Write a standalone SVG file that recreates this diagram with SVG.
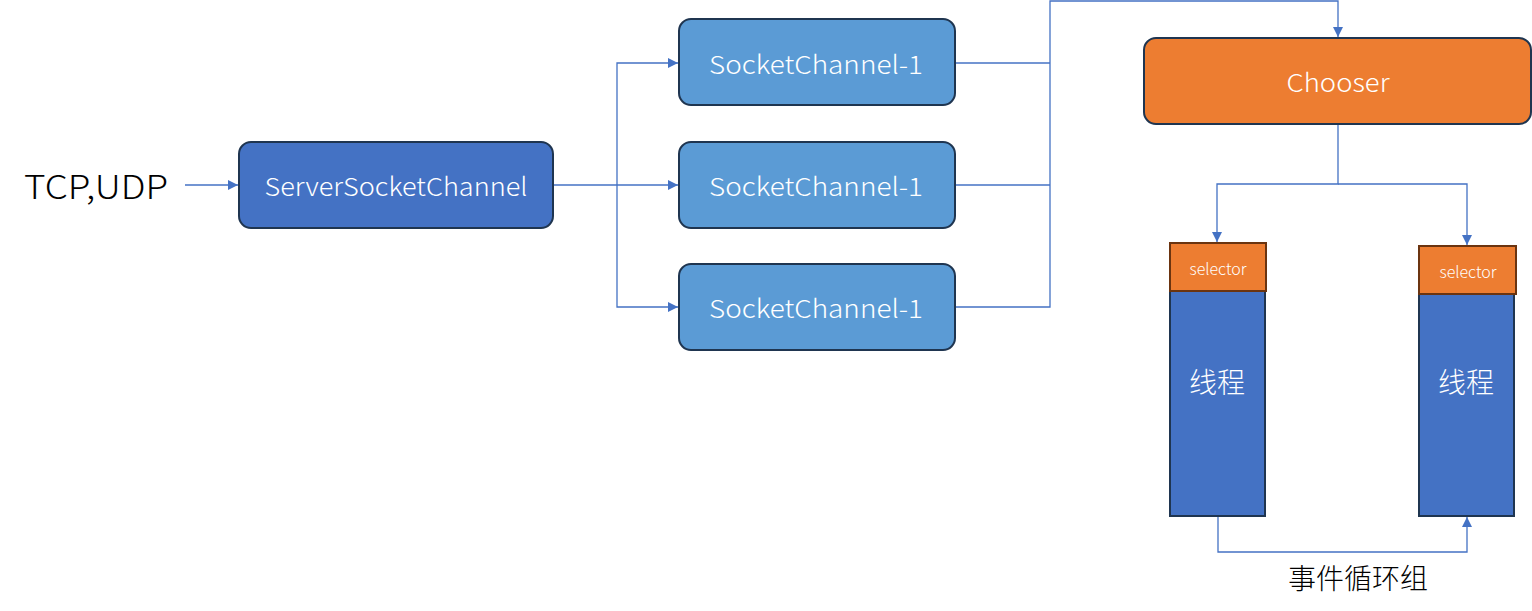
<svg xmlns="http://www.w3.org/2000/svg" width="1532" height="611" viewBox="0 0 1532 611">
<defs>
<marker id="arr" viewBox="0 0 10 10" refX="10" refY="5" markerWidth="10" markerHeight="10" markerUnits="userSpaceOnUse" orient="auto">
<path d="M0,0 L10,5 L0,10 z" fill="#4472C4"/>
</marker>
<style>
.t{font-family:"Noto Sans CJK SC","Microsoft YaHei",sans-serif;text-anchor:middle;dominant-baseline:central;font-weight:300}
.w{fill:#fff}
.c{fill:none;stroke:#4472C4;stroke-width:1.3}
.sc{fill:#5B9BD5;stroke:#1F3550;stroke-width:2}
</style>
</defs>
<rect width="1532" height="611" fill="#fff"/>
<text class="t" x="96" y="185" font-size="33" fill="#000" textLength="144" lengthAdjust="spacingAndGlyphs">TCP,UDP</text>
<g id="connectors">
<path class="c" d="M185,185 H238" marker-end="url(#arr)"/>
<path class="c" d="M553,185 H678" marker-end="url(#arr)"/>
<path class="c" d="M617,185 V63 H678" marker-end="url(#arr)"/>
<path class="c" d="M617,185 V307 H678" marker-end="url(#arr)"/>
<path class="c" d="M955,63 H1050"/>
<path class="c" d="M955,185 H1050"/>
<path class="c" d="M955,307 H1050 V1 H1338 V37" marker-end="url(#arr)"/>
<path class="c" d="M1338,124 V184 H1217 V242" marker-end="url(#arr)"/>
<path class="c" d="M1338,184 H1467 V245" marker-end="url(#arr)"/>
<path class="c" d="M1218,516 V552 H1467 V517" marker-end="url(#arr)"/>
</g>
<g id="ssc">
<rect x="239" y="142" width="314" height="86" rx="12" fill="#4472C4" stroke="#1F3550" stroke-width="2"/>
<text class="t w" x="396" y="185" font-size="25" textLength="263" lengthAdjust="spacingAndGlyphs">ServerSocketChannel</text>
</g>
<g id="sc1">
<rect class="sc" x="679" y="19" width="276" height="86" rx="12"/>
<text class="t w" x="816" y="63" font-size="25" textLength="214" lengthAdjust="spacingAndGlyphs">SocketChannel-1</text>
</g>
<g id="sc2">
<rect class="sc" x="679" y="142" width="276" height="86" rx="12"/>
<text class="t w" x="816" y="185" font-size="25" textLength="214" lengthAdjust="spacingAndGlyphs">SocketChannel-1</text>
</g>
<g id="sc3">
<rect class="sc" x="679" y="264" width="276" height="86" rx="12"/>
<text class="t w" x="816" y="307" font-size="25" textLength="214" lengthAdjust="spacingAndGlyphs">SocketChannel-1</text>
</g>
<g id="chooser">
<rect x="1144" y="38" width="387" height="86" rx="12" fill="#ED7D31" stroke="#1F3550" stroke-width="2"/>
<text class="t w" x="1338" y="81" font-size="25" textLength="103" lengthAdjust="spacingAndGlyphs">Chooser</text>
</g>
<g id="thread1">
<rect x="1170" y="291" width="95" height="225" fill="#4472C4" stroke="#1F3550" stroke-width="2"/>
<rect x="1170" y="243" width="96" height="48" fill="#ED7D31" stroke="#6B3410" stroke-width="2"/>
<text class="t w" x="1218" y="268" font-size="16">selector</text>
<text class="t w" x="1217" y="381" font-size="28">线程</text>
</g>
<g id="thread2">
<rect x="1419" y="294" width="95" height="222" fill="#4472C4" stroke="#1F3550" stroke-width="2"/>
<rect x="1419" y="246" width="97" height="48" fill="#ED7D31" stroke="#6B3410" stroke-width="2"/>
<text class="t w" x="1468" y="271" font-size="16">selector</text>
<text class="t w" x="1466" y="381" font-size="28">线程</text>
</g>
<text class="t" x="1358" y="577" font-size="28" fill="#000">事件循环组</text>
</svg>
